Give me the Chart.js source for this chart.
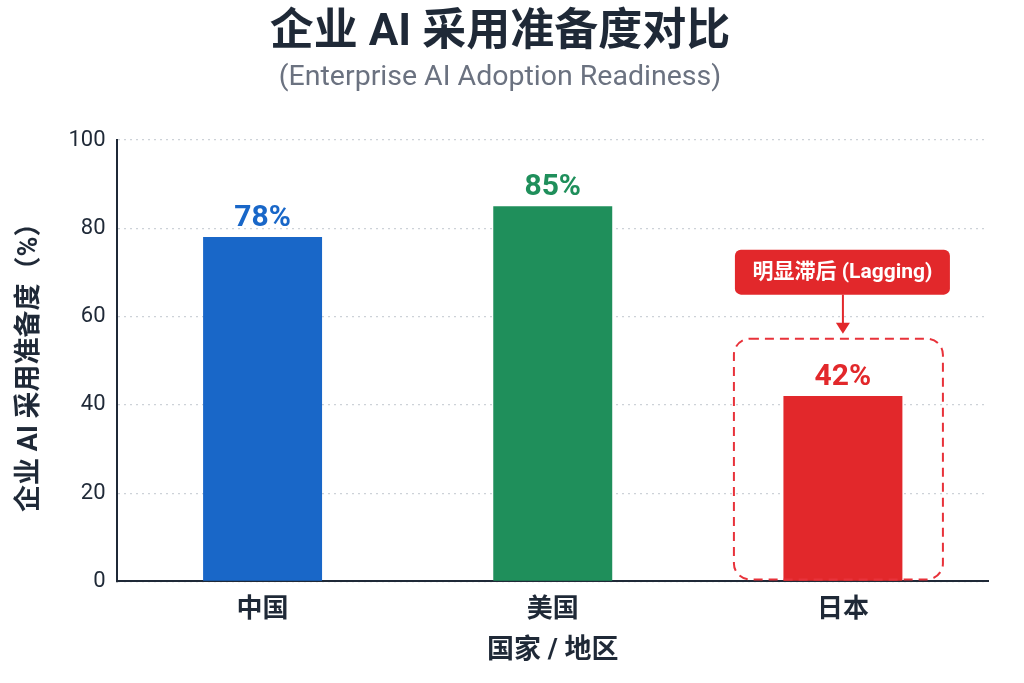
<!DOCTYPE html>
<html><head><meta charset="utf-8">
<script src="https://cdn.jsdelivr.net/npm/chart.js@4/dist/chart.umd.min.js"></script>
<style>html,body{margin:0;padding:0;background:#fff}#wrap{width:1024px;height:683px}</style>
</head><body><div id="wrap"><canvas id="c" width="1024" height="683"></canvas></div>
<script>
const categories = ['中国', '美国', '日本'];
const readiness = [78, 85, 42];
const barColors = ['#1967c8', '#1f8f5b', '#e2282b'];
const yTicks = [0, 20, 40, 60, 80, 100];
const titleText = '企业 AI 采用准备度对比';
const subtitleText = '(Enterprise AI Adoption Readiness)';
const yTitle = '企业 AI 采用准备度（%）';
const xTitle = '国家 / 地区';
const calloutText = '明显滞后 (Lagging)';
const calloutIndex = 2;
const calloutTopValue = 55;

const FONT = "Roboto, 'Noto Sans CJK SC', sans-serif";
const DARK = '#1f2937';

function rr(ctx, x, y, w, h, r) {
  ctx.beginPath();
  ctx.moveTo(x + r, y);
  ctx.lineTo(x + w - r, y); ctx.arcTo(x + w, y, x + w, y + r, r);
  ctx.lineTo(x + w, y + h - r); ctx.arcTo(x + w, y + h, x + w - r, y + h, r);
  ctx.lineTo(x + r, y + h); ctx.arcTo(x, y + h, x, y + h - r, r);
  ctx.lineTo(x, y + r); ctx.arcTo(x, y, x + r, y, r);
  ctx.closePath();
}

const overlay = {
  id: 'overlay',
  afterDatasetsDraw(chart) {
    const ctx = chart.ctx;
    const meta = chart.getDatasetMeta(0);
    const ys = chart.scales.y;
    ctx.save();
    meta.data.forEach((bar, i) => {
      ctx.fillStyle = barColors[i];
      ctx.font = "bold 30px " + FONT;
      ctx.textAlign = 'center';
      ctx.textBaseline = 'alphabetic';
      ctx.fillText(readiness[i] + '%', bar.x, bar.y - 11);
    });
    // callout for Japan
    const b = meta.data[calloutIndex];
    const top = ys.getPixelForValue(calloutTopValue);
    const bottom = ys.getPixelForValue(0) - 2;
    const left = b.x - 109, right = b.x + 100;
    ctx.strokeStyle = '#e8323a';
    ctx.lineWidth = 2;
    ctx.setLineDash([9, 6]);
    rr(ctx, left, top, right - left, bottom - top, 16);
    ctx.stroke();
    ctx.setLineDash([]);
    // label box
    ctx.font = "bold 21px " + FONT;
    const boxW = 215, boxH = 45;
    const bx = b.x - 108, by = top - 89;
    ctx.fillStyle = '#e2282b';
    rr(ctx, bx, by, boxW, boxH, 6);
    ctx.fill();
    ctx.fillStyle = '#ffffff';
    ctx.textAlign = 'center';
    ctx.textBaseline = 'middle';
    ctx.fillText(calloutText, bx + boxW / 2, by + boxH / 2 + 1);
    // arrow
    const ax = b.x;
    ctx.strokeStyle = '#e2282b';
    ctx.lineWidth = 2;
    ctx.beginPath();
    ctx.moveTo(ax, by + boxH);
    ctx.lineTo(ax, top - 14);
    ctx.stroke();
    ctx.fillStyle = '#e2282b';
    ctx.beginPath();
    ctx.moveTo(ax - 7, top - 16);
    ctx.lineTo(ax + 7, top - 16);
    ctx.lineTo(ax, top - 5);
    ctx.closePath();
    ctx.fill();
    ctx.restore();
  }
};

new Chart(document.getElementById('c'), {
  type: 'bar',
  data: {
    labels: categories,
    datasets: [{
      data: readiness,
      backgroundColor: barColors,
      borderWidth: 0,
      barPercentage: 0.82,
      categoryPercentage: 0.5
    }]
  },
  options: {
    responsive: false,
    animation: false,
    devicePixelRatio: 1,
    layout: { padding: { left: 12, right: 36, top: 4, bottom: 12 } },
    plugins: {
      legend: { display: false },
      tooltip: { enabled: false },
      title: {
        display: true, text: titleText, color: DARK,
        font: { family: FONT, size: 44, weight: 'bold' },
        padding: { top: 4, bottom: 0 }
      },
      subtitle: {
        display: true, text: subtitleText, color: '#6b7280',
        font: { family: FONT, size: 28.5 },
        padding: { top: 0, bottom: 45 }
      }
    },
    scales: {
      y: {
        min: 0, max: 100,
        afterBuildTicks(scale) { scale.ticks = yTicks.map(v => ({ value: v })); },
        ticks: { color: DARK, font: { family: FONT, size: 22 }, padding: 12 },
        grid: { color: '#cdd2d8', lineWidth: 1.2, drawTicks: false },
        border: { display: true, color: DARK, width: 2, dash: [2, 4] },
        title: { display: true, text: yTitle, color: DARK,
                 font: { family: FONT, size: 27, weight: 'bold' }, padding: { top: 2, bottom: 10 } }
      },
      x: {
        ticks: { color: DARK, font: { family: FONT, size: 26, weight: 'bold' }, padding: 5 },
        grid: { display: false },
        border: { display: true, color: DARK, width: 2 },
        title: { display: true, text: xTitle, color: DARK,
                 font: { family: FONT, size: 27, weight: 'bold' }, padding: { top: 4 } }
      }
    }
  },
  plugins: [overlay]
});
</script></body></html>
